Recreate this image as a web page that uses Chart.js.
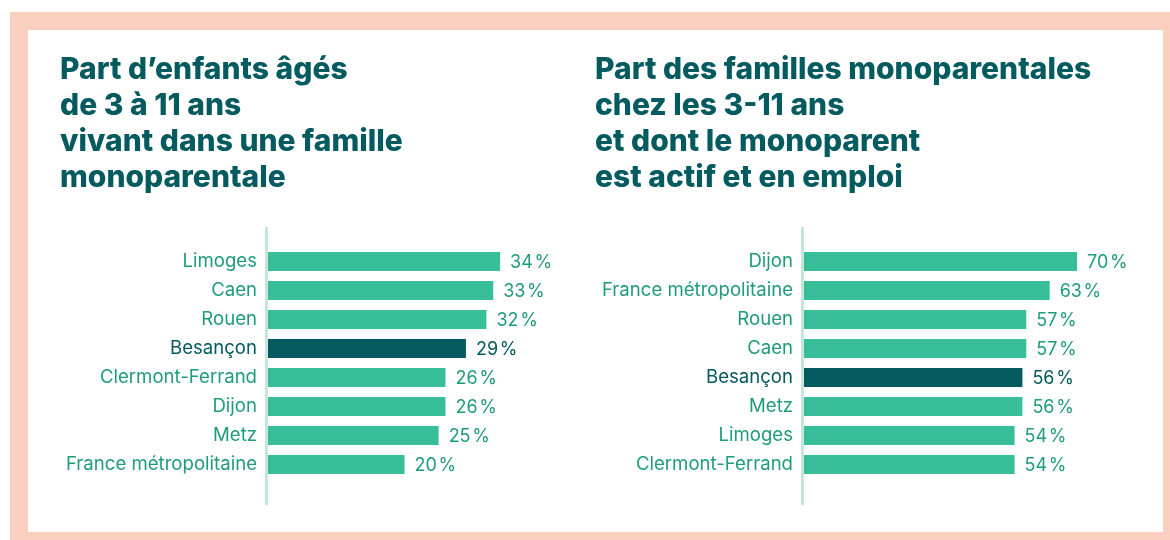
<!DOCTYPE html>
<html lang="fr">
<head>
<meta charset="utf-8">
<script src="https://cdn.jsdelivr.net/npm/chart.js@4.4.1/dist/chart.umd.min.js"></script>
<style>
  body { margin: 0; width: 1170px; height: 540px; overflow: hidden; background: #fff; position: relative; }
  #frame { position: absolute; left: 10px; top: 12px; width: 1200px; height: 560px; background: #fbcfc0; }
  #panel { position: absolute; left: 28px; top: 30px; width: 1135px; height: 502px; background: #fff; }
  .box { position: absolute; top: 30px; height: 502px; }
  #leftBox { left: 28px; width: 552px; }
  #rightBox { left: 580px; width: 583px; }
</style>
</head>
<body>
<div id="frame"></div>
<div id="panel"></div>
<div class="box" id="leftBox"><canvas id="leftChart"></canvas></div>
<div class="box" id="rightBox"><canvas id="rightChart"></canvas></div>
<script>
const leftTitle = ["Part d\u2019enfants âgés", "de 3 à 11 ans", "vivant dans une famille", "monoparentale"];
const leftCities = ["Limoges", "Caen", "Rouen", "Besançon", "Clermont-Ferrand", "Dijon", "Metz", "France métropolitaine"];
const leftValues = [34, 33, 32, 29, 26, 26, 25, 20];

const rightTitle = ["Part des familles monoparentales", "chez les 3-11 ans", "et dont le monoparent", "est actif et en emploi"];
const rightCities = ["Dijon", "France métropolitaine", "Rouen", "Caen", "Besançon", "Metz", "Limoges", "Clermont-Ferrand"];
const rightValues = [70, 63, 57, 57, 56, 56, 54, 54];

const HIGHLIGHT = "Besançon";
const GREEN = "#38bf9a";
const DARK = "#035a5f";
const LABEL_GREEN = "#1f9c7a";
const AXIS_LINE = "#c5e6da";

// value labels after each bar + the light vertical axis line
const barExtras = {
  id: "barExtras",
  beforeDatasetsDraw(chart) {
    const { ctx, chartArea } = chart;
    ctx.save();
    ctx.strokeStyle = AXIS_LINE;
    ctx.lineWidth = 3;
    ctx.beginPath();
    ctx.moveTo(chartArea.left - 1.5, chartArea.top - 20);
    ctx.lineTo(chartArea.left - 1.5, chartArea.bottom + 26);
    ctx.stroke();
    ctx.restore();
  },
  afterDatasetsDraw(chart) {
    const { ctx } = chart;
    const labels = chart.data.labels;
    const values = chart.data.datasets[0].data;
    ctx.save();
    ctx.font = "400 18px Inter";
    ctx.textBaseline = "middle";
    ctx.textAlign = "left";
    chart.getDatasetMeta(0).data.forEach((bar, i) => {
      ctx.fillStyle = labels[i] === HIGHLIGHT ? DARK : LABEL_GREEN;
      ctx.fillText(values[i] + "\u200A%", bar.x + 10, bar.y + 1);
    });
    ctx.restore();
  },
};

function drawChart(id, title, cities, values, xMax, pad, axisWidth) {
  new Chart(document.getElementById(id), {
    type: "bar",
    data: {
      labels: cities,
      datasets: [
        {
          data: values,
          backgroundColor: cities.map((c) => (c === HIGHLIGHT ? DARK : GREEN)),
          categoryPercentage: 1,
          barPercentage: 0.66,
        },
      ],
    },
    options: {
      indexAxis: "y",
      responsive: true,
      maintainAspectRatio: false,
      animation: false,
      layout: { padding: { left: pad.left, right: pad.right, top: 0, bottom: 53 } },
      plugins: {
        legend: { display: false },
        tooltip: { enabled: false },
        title: {
          display: true,
          text: title,
          align: "start",
          color: DARK,
          font: { family: "Inter", size: 30, weight: "800", lineHeight: "36px" },
          padding: { top: 22, bottom: 51 },
        },
      },
      scales: {
        x: { display: false, min: 0, max: xMax },
        y: {
          grid: { display: false, drawTicks: false },
          border: { display: false },
          afterFit(scale) {
            scale.width = axisWidth;
          },
          ticks: {
            padding: 11,
            color: (c) => (cities[c.index] === HIGHLIGHT ? DARK : LABEL_GREEN),
            font: { family: "Inter", size: 18.6, weight: "400" },
          },
        },
      },
    },
    plugins: [barExtras],
  });
}

drawChart("leftChart", leftTitle, leftCities, leftValues, 40, { left: 32, right: 39 }, 208);
drawChart("rightChart", rightTitle, rightCities, rightValues, 80, { left: 15, right: 47 }, 209);
</script>
</body>
</html>
